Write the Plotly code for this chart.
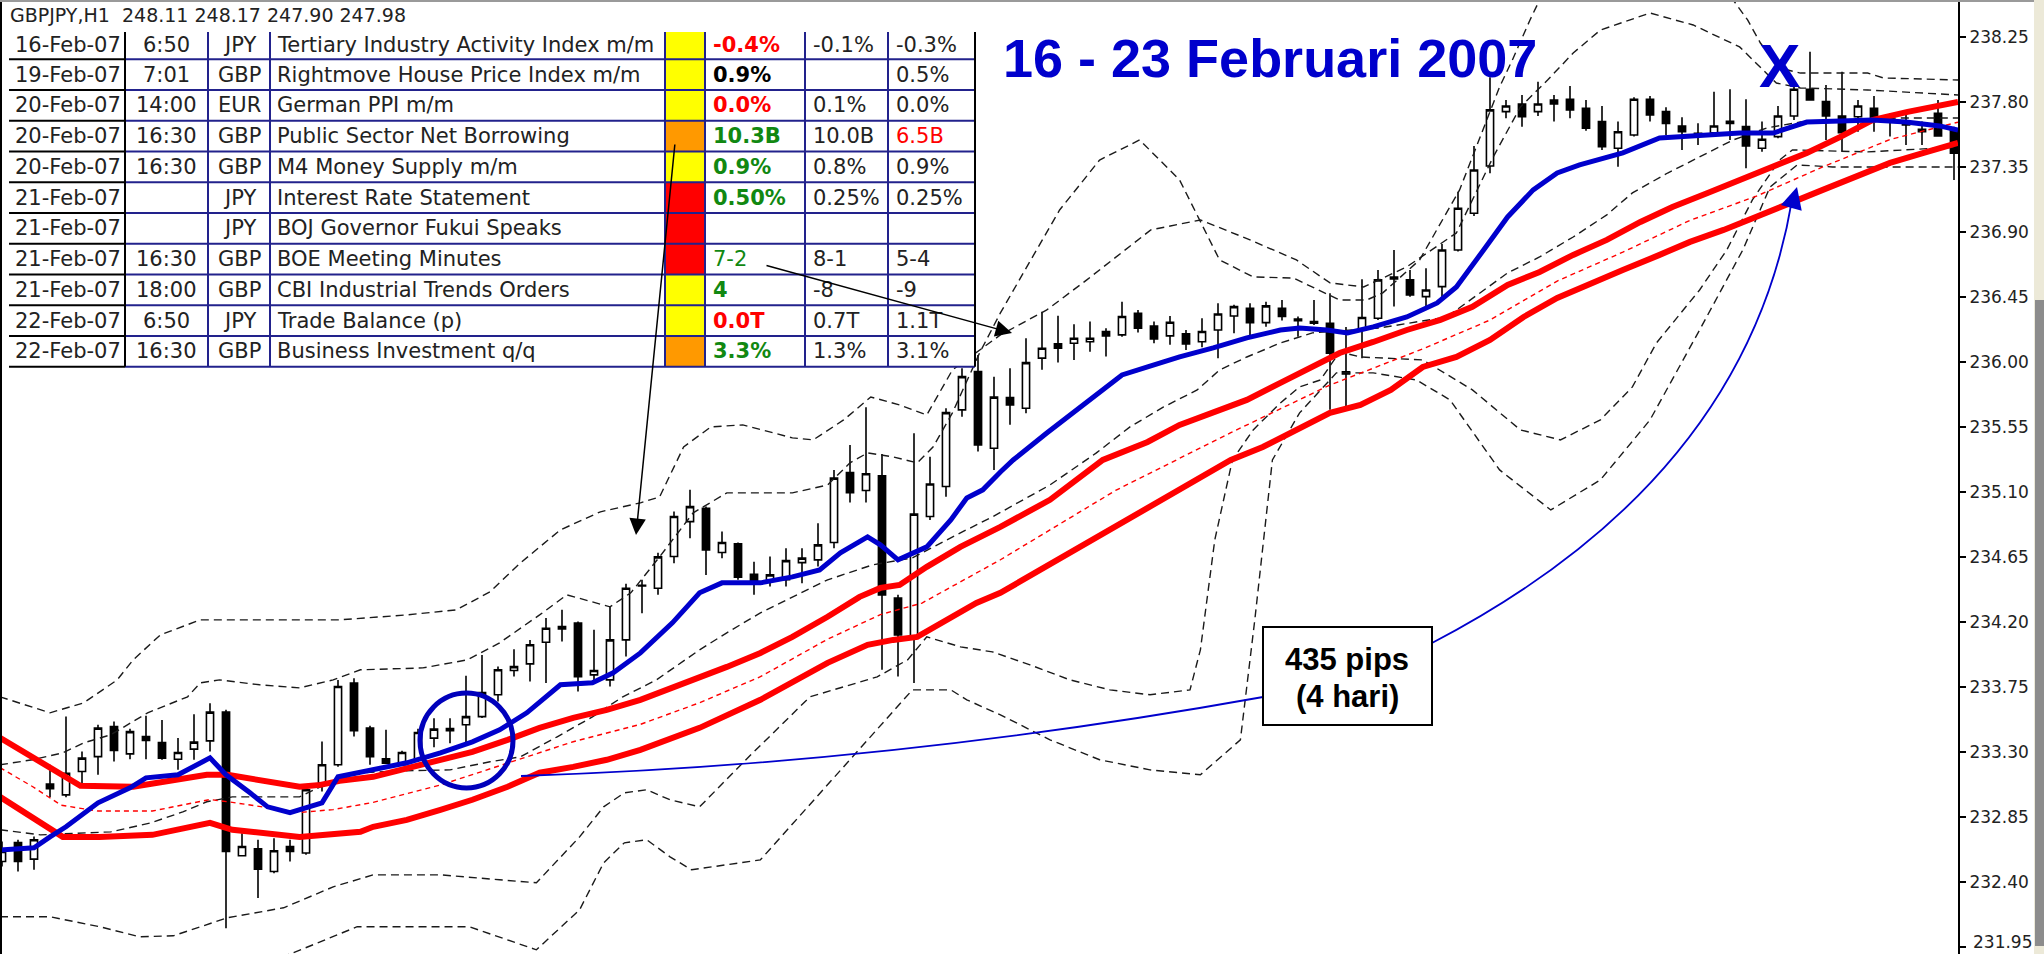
import plotly.graph_objects as go

# ---------------- data: GBPJPY H1 candles (hour index 0..122) ----------------
O = [232.540, 232.672, 232.557, 233.076, 233.002, 233.164, 233.267, 233.475, 233.286, 233.406,
     233.364, 233.249, 233.319, 233.376, 233.575, 232.580, 232.628, 232.471, 232.644, 232.599,
     233.083, 233.210, 233.776, 233.464, 233.251, 233.210, 233.245, 233.395, 233.461, 233.487,
     233.544, 233.695, 233.863, 233.909, 234.059, 234.167, 234.191, 233.833, 233.798, 234.075,
     234.453, 234.433, 234.652, 234.894, 234.987, 234.680, 234.740, 234.530, 234.491, 234.491,
     234.610, 234.629, 234.749, 235.234, 235.109, 235.211, 234.364, 234.087, 234.929, 235.137,
     235.668, 235.933, 235.402, 235.753, 235.679, 236.026, 236.125, 236.129, 236.140, 236.210,
     236.187, 236.337, 236.249, 236.180, 236.194, 236.140, 236.221, 236.318, 236.372, 236.272,
     236.372, 236.296, 236.279, 236.268, 235.931, 236.221, 236.302, 236.588, 236.568, 236.452,
     236.521, 236.775, 237.029, 237.357, 237.733, 237.786, 237.733, 237.814, 237.819, 237.756,
     237.664, 237.479, 237.571, 237.819, 237.733, 237.634, 237.583, 237.587, 237.652, 237.629,
     237.479, 237.560, 237.703, 237.888, 237.802, 237.703, 237.698, 237.756, 237.687, 237.652,
     237.611, 237.722, 237.606]
H = [232.679, 232.691, 232.714, 233.210, 233.544, 233.302, 233.487, 233.510, 233.459, 233.549,
     233.521, 233.395, 233.561, 233.637, 233.591, 232.737, 232.691, 232.702, 232.691, 233.051,
     233.371, 233.798, 233.810, 233.480, 233.452, 233.307, 233.459, 233.533, 233.533, 233.826,
     233.971, 233.890, 234.011, 234.075, 234.226, 234.283, 234.202, 234.145, 234.306, 234.463,
     234.491, 234.678, 234.964, 235.114, 234.998, 234.825, 234.749, 234.617, 234.652, 234.710,
     234.710, 234.883, 235.252, 235.425, 235.686, 235.363, 234.387, 235.506, 235.344, 235.679,
     235.956, 236.048, 235.898, 235.956, 236.164, 236.348, 236.320, 236.261, 236.279, 236.233,
     236.417, 236.360, 236.279, 236.318, 236.221, 236.302, 236.406, 236.395, 236.406, 236.417,
     236.429, 236.314, 236.429, 236.476, 236.242, 236.572, 236.637, 236.775, 236.637, 236.649,
     236.817, 237.179, 237.495, 237.971, 237.814, 237.848, 237.940, 237.848, 237.911, 237.814,
     237.772, 237.664, 237.832, 237.841, 237.763, 237.694, 237.652, 237.871, 237.888, 237.819,
     237.664, 237.772, 237.929, 238.148, 237.918, 238.010, 237.814, 237.841, 237.722, 237.733,
     237.664, 237.814, 237.629]
L = [232.506, 232.471, 232.483, 232.986, 232.985, 233.083, 233.141, 233.233, 233.249, 233.249,
     233.245, 233.175, 233.245, 233.302, 232.079, 232.575, 232.287, 232.460, 232.540, 232.587,
     233.025, 233.196, 233.406, 233.210, 233.217, 233.203, 233.231, 233.332, 233.360, 233.360,
     233.535, 233.648, 233.821, 233.787, 233.776, 234.064, 233.717, 233.787, 233.752, 233.960,
     234.260, 234.387, 234.606, 234.779, 234.525, 234.641, 234.491, 234.387, 234.444, 234.444,
     234.468, 234.583, 234.710, 235.026, 235.026, 233.868, 233.821, 233.776, 234.906, 235.067,
     235.621, 235.379, 235.252, 235.564, 235.645, 235.945, 235.995, 236.014, 236.071, 236.037,
     236.175, 236.203, 236.129, 236.118, 236.083, 236.102, 236.026, 236.199, 236.187, 236.244,
     236.286, 236.175, 236.256, 235.668, 235.668, 236.026, 236.291, 236.383, 236.452, 236.383,
     236.441, 236.764, 237.011, 237.306, 237.687, 237.629, 237.703, 237.664, 237.687, 237.601,
     237.468, 237.352, 237.560, 237.664, 237.571, 237.468, 237.502, 237.571, 237.537, 237.341,
     237.456, 237.549, 237.675, 237.809, 237.537, 237.456, 237.594, 237.594, 237.560, 237.502,
     237.502, 237.560, 237.260]
C = [232.610, 232.540, 232.691, 233.044, 233.152, 233.256, 233.464, 233.309, 233.440, 233.378,
     233.256, 233.295, 233.367, 233.575, 232.610, 232.644, 232.488, 232.615, 232.610, 233.037,
     233.210, 233.752, 233.447, 233.267, 233.222, 233.295, 233.434, 233.457, 233.447, 233.544,
     233.710, 233.868, 233.890, 234.041, 234.156, 234.151, 233.821, 233.863, 234.075, 234.433,
     234.449, 234.650, 234.929, 234.998, 234.698, 234.749, 234.509, 234.479, 234.525, 234.624,
     234.641, 234.733, 235.195, 235.095, 235.225, 234.387, 234.110, 234.946, 235.155, 235.649,
     235.898, 235.425, 235.756, 235.702, 235.995, 236.095, 236.095, 236.164, 236.164, 236.180,
     236.314, 236.233, 236.159, 236.275, 236.125, 236.210, 236.332, 236.383, 236.272, 236.388,
     236.314, 236.286, 236.268, 236.060, 235.917, 236.307, 236.568, 236.575, 236.464, 236.498,
     236.775, 237.064, 237.329, 237.745, 237.772, 237.698, 237.786, 237.786, 237.745, 237.618,
     237.490, 237.594, 237.819, 237.710, 237.652, 237.594, 237.571, 237.634, 237.666, 237.495,
     237.542, 237.703, 237.888, 237.814, 237.703, 237.587, 237.772, 237.670, 237.675, 237.641,
     237.594, 237.564, 237.445]
HOURS = list(range(len(O)))

# blue moving average
blue_x = [-0.125, 2, 3, 4, 6, 8, 9, 11, 13, 14, 15.5, 16.6, 18, 20, 21, 23, 25.3, 27.4, 29.4, 31.1,
          32.8, 34.9, 36.9, 38.2, 39.9, 41.9, 43.6, 45, 47.4, 49.4, 51.1, 52.4, 54.1, 54.9, 56, 57.8,
          59.3, 60.3, 61.3, 62.4, 63.2, 65.3, 67.4, 70, 71.6, 73.6, 75.7, 77.8, 79.9, 81.1, 82.8, 84.1,
          85.7, 87.8, 89.7, 90.9, 92.6, 94.1, 95.7, 97.2, 98.6, 100.3, 101.3, 103.6, 106.6, 108.6,
          110.7, 111.8, 112.8, 114.9, 116.9, 119, 121.1, 122.25]
blue_y = [232.621, 232.635, 232.711, 232.781, 232.947, 233.051, 233.120, 233.141, 233.258, 233.141,
          233.016, 232.919, 232.878, 232.947, 233.127, 233.175, 233.224, 233.293, 233.369, 233.452,
          233.570, 233.764, 233.778, 233.847, 233.985, 234.193, 234.401, 234.470, 234.470, 234.511,
          234.560, 234.678, 234.788, 234.733, 234.629, 234.719, 234.906, 235.058, 235.114, 235.238,
          235.321, 235.508, 235.688, 235.910, 235.965, 236.035, 236.097, 236.166, 236.221, 236.235,
          236.221, 236.201, 236.242, 236.311, 236.408, 236.519, 236.775, 237.004, 237.191, 237.308,
          237.364, 237.412, 237.447, 237.551, 237.571, 237.585, 237.585, 237.627, 237.661, 237.668,
          237.675, 237.661, 237.634, 237.606]

# red envelope (upper / lower / middle)
red_up_x = [-0.125, 1.9, 3.6, 4.9, 8.2, 10.3, 12.8, 14.1, 16.6, 18.6, 19.9, 21.1, 23.2, 25.3, 27.4,
            29.4, 31.6, 33.6, 35.7, 37.8, 39.9, 41.9, 43.6, 45.3, 47.4, 49.4, 51.6, 53.6, 54.9, 56.1,
            57.8, 59.9, 62.4, 65.5, 68.8, 71.6, 73.6, 75.7, 77.8, 79.9, 81.9, 83.6, 85.7, 87.8, 89.9,
            91.9, 94.1, 96.1, 98.2, 100.3, 102.4, 104.4, 106.6, 108.6, 110.7, 112.8, 114.9, 116.9,
            119.1, 121.1, 122.25]
red_up_y = [233.397, 233.265, 233.155, 233.065, 233.058, 233.092, 233.141, 233.141, 233.092, 233.058,
            233.071, 233.099, 233.127, 233.189, 233.245, 233.300, 233.383, 233.466, 233.535, 233.591,
            233.660, 233.743, 233.812, 233.888, 233.985, 234.096, 234.235, 234.373, 234.435, 234.456,
            234.581, 234.719, 234.858, 235.045, 235.321, 235.446, 235.564, 235.647, 235.737, 235.855,
            235.965, 236.062, 236.138, 236.221, 236.291, 236.381, 236.533, 236.623, 236.741, 236.845,
            236.969, 237.073, 237.170, 237.260, 237.350, 237.447, 237.558, 237.675, 237.731, 237.779,
            237.800]
red_lo_x = [-0.125, 1.9, 3.8, 6.1, 9.4, 13.0, 14.4, 18.6, 20.7, 22.4, 23.2, 25.3, 27.4, 29.4, 31.6,
            33.6, 35.7, 37.8, 39.9, 41.9, 43.6, 47.4, 49.4, 51.6, 54.1, 55.7, 57.2, 58.8, 60.9, 62.4,
            69.6, 76.8, 78.8, 80.9, 83.0, 84.9, 86.8, 88.8, 90.9, 93.0, 95.1, 97.2, 99.3, 101.3, 103.6,
            105.5, 107.6, 109.7, 111.8, 113.8, 115.9, 118.0, 120.1, 122.25]
red_lo_y = [232.988, 232.850, 232.711, 232.711, 232.725, 232.808, 232.760, 232.711, 232.725, 232.746,
            232.781, 232.829, 232.898, 232.968, 233.058, 233.155, 233.196, 233.245, 233.314, 233.397,
            233.466, 233.660, 233.785, 233.916, 234.041, 234.075, 234.096, 234.200, 234.331, 234.401,
            234.858, 235.321, 235.411, 235.529, 235.647, 235.702, 235.806, 235.965, 236.035, 236.152,
            236.311, 236.443, 236.547, 236.637, 236.741, 236.831, 236.914, 237.004, 237.101, 237.191,
            237.281, 237.378, 237.447, 237.516]
red_mid_x = [-0.125, 1.9, 3.7, 6.0, 9.4, 13.0, 14.4, 18.6, 20.7, 23.2, 27.4, 31.6, 35.7, 39.9, 43.6,
             47.4, 51.6, 54.9, 57.5, 62.4, 69.6, 76.8, 83.0, 88.8, 93.0, 97.2, 101.3, 105.5, 109.7,
             113.8, 118.0, 122.25]
red_mid_y = [233.19, 233.06, 232.93, 232.89, 232.89, 232.97, 232.95, 232.88, 232.90, 232.95, 233.07,
             233.22, 233.37, 233.49, 233.64, 233.82, 234.08, 234.25, 234.33, 234.63, 235.11, 235.51,
             235.84, 236.09, 236.29, 236.56, 236.76, 236.98, 237.15, 237.35, 237.54, 237.66]

# black dashed bands
bb_up1_x = [-0.125, 3.0, 5.1, 7.2, 8.2, 9.9, 12.4, 16.1, 21.1, 25.3, 28.4, 30.5, 32.4, 34.9, 37.4,
            39.9, 41.1, 42.6, 44.3, 46.3, 49.4, 50.7, 52.6, 54.3, 56.1, 57.8, 59.4, 62.4, 65.3, 67.8,
            69.4, 71.8, 74.9, 78.0, 80.9, 83.0, 85.1, 87.8, 90.9, 93.2, 94.9, 96.6, 98.2, 99.9, 103.0,
            105.7, 108.6, 109.9, 110.9, 112.4, 116.6, 122.25]
bb_up1_y = [233.681, 233.570, 233.639, 233.798, 233.937, 234.110, 234.214, 234.214, 234.214, 234.248,
            234.283, 234.408, 234.608, 234.837, 234.962, 235.024, 235.065, 235.411, 235.550, 235.564,
            235.474, 235.460, 235.598, 235.757, 235.702, 235.633, 235.944, 236.187, 236.360, 236.568,
            236.706, 236.914, 236.983, 236.845, 236.706, 236.547, 236.519, 236.658, 236.893, 237.419,
            237.765, 237.952, 238.139, 238.298, 238.416, 238.333, 238.181, 238.042, 237.931, 237.897,
            237.883, 237.848]
bb_up2_x = [-0.125, 1.9, 3.8, 5.1, 6.8, 9.1, 11.6, 12.4, 13.6, 16.1, 18.6, 20.7, 22.4, 26.3, 29.1,
            31.1, 33.6, 35.3, 36.9, 38.0, 39.3, 41.1, 43.2, 45.3, 49.4, 51.6, 53.0, 54.1, 55.7, 57.2,
            58.2, 59.4, 61.1, 62.4, 64.3, 66.1, 68.6, 71.1, 73.6, 76.1, 78.2, 80.7, 83.6, 85.3, 86.3,
            88.6, 91.1, 93.6, 94.4, 95.5, 96.4, 99.9, 104.9, 108.2, 109.1, 109.9, 110.7, 111.6, 112.4,
            116.6, 117.6, 122.25]
bb_up2_y = [233.210, 233.245, 233.293, 233.362, 233.418, 233.570, 233.681, 233.778, 233.798, 233.764,
            233.743, 233.798, 233.868, 233.881, 233.937, 234.055, 234.248, 234.387, 234.338, 234.304,
            234.401, 234.650, 234.955, 235.093, 235.093, 235.148, 235.301, 235.370, 235.342, 235.301,
            235.412, 235.647, 236.062, 236.339, 236.706, 237.052, 237.398, 237.537, 237.260, 236.706,
            236.588, 236.581, 236.429, 236.429, 236.478, 236.706, 237.191, 237.904, 238.091, 238.368,
            238.575, 239.06, 238.92, 238.506, 238.368, 238.208, 238.091, 238.021, 238.000, 238.000,
            237.966, 237.952]
bb_mid_x = [-0.125, 2.4, 6.8, 9.3, 11.3, 12.8, 14.4, 18.6, 19.9, 22.4, 24.9, 28.0, 30.5, 32.4, 34.7,
            36.9, 38.8, 40.9, 43.6, 45.3, 47.4, 49.4, 51.6, 54.4, 56.9, 59.9, 61.9, 65.5, 68.4, 70.5,
            72.6, 74.7, 76.1, 77.8, 79.9, 81.9, 86.1, 90.3, 92.4, 94.1, 96.1, 98.2, 100.3, 101.9, 104.1,
            106.1, 108.2, 110.3, 112.4, 118.6, 122.25]
bb_mid_y = [232.760, 232.725, 232.746, 232.808, 232.884, 232.954, 232.988, 232.988, 233.058, 233.155,
            233.168, 233.175, 233.231, 233.265, 233.404, 233.542, 233.681, 233.798, 234.006, 234.124,
            234.262, 234.373, 234.491, 234.594, 234.643, 234.816, 234.927, 235.148, 235.370, 235.550,
            235.688, 235.806, 235.944, 236.034, 236.131, 236.201, 236.235, 236.311, 236.478, 236.616,
            236.727, 236.865, 237.018, 237.170, 237.308, 237.419, 237.537, 237.620, 237.661, 237.689,
            237.689]
bb_lo1_x = [-0.125, 3.0, 6.1, 8.6, 10.7, 14.1, 17.6, 20.7, 23.2, 27.4, 31.1, 33.4, 36.1, 37.6, 38.9,
            40.3, 41.75, 43.6, 46.8, 50.5, 54.7, 56.6, 57.8, 59.9, 61.9, 64.25, 66.75, 69.25, 71.75,
            74.25, 74.9, 75.3, 75.8, 76.9, 78.2, 79.9, 81.1, 82.4, 83.6, 84.9, 88.8, 91.9, 94.9, 97.4,
            99.9, 101.9, 103.4, 106.1, 107.8, 109.4, 111.1, 111.9, 116.6, 122.25]
bb_lo1_y = [232.158, 232.158, 232.089, 232.019, 232.026, 232.151, 232.220, 232.365, 232.448, 232.448,
            232.414, 232.393, 232.711, 232.919, 233.016, 233.037, 232.968, 232.919, 233.279, 233.681,
            233.819, 233.937, 234.096, 234.027, 233.992, 233.902, 233.798, 233.729, 233.695, 233.729,
            234.006, 234.352, 234.768, 235.321, 235.529, 235.716, 235.827, 235.875, 236.069, 236.034,
            236.014, 235.806, 235.529, 235.460, 235.598, 235.827, 236.131, 236.498, 236.775, 237.122,
            237.398, 237.468, 237.454, 237.488]
bb_lo2_x = [-0.125, 12.4, 18.2, 20.7, 22.2, 29.2, 33.4, 36.1, 37.6, 38.9, 40.3, 41.75, 43.1, 47.4,
            53.0, 56.9, 59.3, 60.3, 62.4, 65.5, 68.6, 71.75, 74.9, 77.4, 78.3, 78.9, 79.4, 81.1, 83.4,
            85.7, 88.4, 90.5, 93.6, 96.8, 99.9, 103.0, 106.1, 108.8, 110.5, 112.2, 114.4, 122.25]
bb_lo2_y = [231.687, 231.687, 231.908, 232.019, 232.089, 232.089, 231.929, 232.206, 232.531, 232.670,
            232.691, 232.573, 232.483, 232.552, 233.245, 233.729, 233.729, 233.660, 233.556, 233.383,
            233.245, 233.175, 233.141, 233.383, 234.214, 234.837, 235.321, 235.647, 235.924, 235.924,
            235.875, 235.737, 235.252, 234.975, 235.183, 235.598, 236.221, 236.775, 237.211, 237.364,
            237.350, 237.350]

# price axis
y_ticks = [231.95, 232.40, 232.85, 233.30, 233.75, 234.20, 234.65, 235.10, 235.55, 236.00,
           236.45, 236.90, 237.35, 237.80, 238.25]
y_range = [231.90, 238.506]
x_range = [-0.125, 122.25]

# news table
t_date = ["16-Feb-07", "19-Feb-07", "20-Feb-07", "20-Feb-07", "20-Feb-07", "21-Feb-07",
          "21-Feb-07", "21-Feb-07", "21-Feb-07", "22-Feb-07", "22-Feb-07"]
t_time = ["6:50", "7:01", "14:00", "16:30", "16:30", "", "", "16:30", "18:00", "6:50", "16:30"]
t_ccy = ["JPY", "GBP", "EUR", "GBP", "GBP", "JPY", "JPY", "GBP", "GBP", "JPY", "GBP"]
t_event = ["Tertiary Industry Activity Index m/m", "Rightmove House Price Index m/m",
           "German PPI m/m", "Public Sector Net Borrowing", "M4 Money Supply m/m",
           "Interest Rate Statement", "BOJ Governor Fukui Speaks", "BOE Meeting Minutes",
           "CBI Industrial Trends Orders", "Trade Balance (p)", "Business Investment q/q"]
t_impact = ["#FFFF00", "#FFFF00", "#FFFF00", "#FF9900", "#FFFF00", "#FF0000", "#FF0000",
            "#FF0000", "#FFFF00", "#FFFF00", "#FF9900"]
t_actual = ["-0.4%", "0.9%", "0.0%", "10.3B", "0.9%", "0.50%", "", "7-2", "4", "0.0T", "3.3%"]
t_actual_col = ["#FF0000", "#000000", "#FF0000", "#118811", "#118811", "#118811", "#000000",
                "#118811", "#118811", "#FF0000", "#118811"]
t_actual_bold = [True, True, True, True, True, True, True, False, True, True, True]
t_fcst = ["-0.1%", "", "0.1%", "10.0B", "0.8%", "0.25%", "", "8-1", "-8", "0.7T", "1.3%"]
t_prev = ["-0.3%", "0.5%", "0.0%", "6.5B", "0.9%", "0.25%", "", "5-4", "-9", "1.1T", "3.1%"]
t_prev_col = ["#222", "#222", "#222", "#FF0000", "#222", "#222", "#222", "#222", "#222", "#222", "#222"]

# ---------------- figure ----------------
FIG_W, FIG_H, PLOT_W = 2044, 954, 1958
def PX(x):
    return x / PLOT_W
def PY(y):
    return 1 - y / FIG_H

fig = go.Figure()
fig.add_trace(go.Candlestick(
    x=HOURS, open=O, high=H, low=L, close=C,
    increasing=dict(line=dict(color="black", width=1.6), fillcolor="white"),
    decreasing=dict(line=dict(color="black", width=1.6), fillcolor="black"),
    whiskerwidth=0, hoverinfo="skip", showlegend=False))

for xs, ys in [(bb_up1_x, bb_up1_y), (bb_up2_x, bb_up2_y), (bb_mid_x, bb_mid_y),
               (bb_lo1_x, bb_lo1_y), (bb_lo2_x, bb_lo2_y)]:
    fig.add_trace(go.Scatter(x=xs, y=ys, mode="lines", hoverinfo="skip",
                             line=dict(color="#1a1a1a", width=1.4, dash="8px,5px")))
fig.add_trace(go.Scatter(x=red_mid_x, y=red_mid_y, mode="lines", hoverinfo="skip",
                         line=dict(color="#FF0000", width=1.4, dash="5px,4px")))
for xs, ys in [(red_up_x, red_up_y), (red_lo_x, red_lo_y)]:
    fig.add_trace(go.Scatter(x=xs, y=ys, mode="lines", hoverinfo="skip",
                             line=dict(color="#FF0000", width=6)))
fig.add_trace(go.Scatter(x=blue_x, y=blue_y, mode="lines", hoverinfo="skip",
                         line=dict(color="#0000CC", width=5)))

shapes = []
ann = []

# ---- table ----
cols = [9, 125, 208, 270, 665, 705, 805, 888, 975]
seps = [59.3 + 30.74 * k for k in range(11)]
tops = [32] + seps[:-1]
NAVY = "#22228C"
shapes.append(dict(type="rect", xref="paper", yref="paper", layer="above",
                   x0=PX(cols[0]), x1=PX(cols[-1]), y0=PY(seps[-1]), y1=PY(32),
                   fillcolor="white", line=dict(width=0)))
for k in range(11):
    shapes.append(dict(type="rect", xref="paper", yref="paper", layer="above",
                       x0=PX(cols[4]), x1=PX(cols[5]), y0=PY(seps[k]), y1=PY(tops[k]),
                       fillcolor=t_impact[k], line=dict(width=0)))
for s in seps:
    shapes.append(dict(type="line", xref="paper", yref="paper", layer="above",
                       x0=PX(cols[0]), x1=PX(cols[1]), y0=PY(s), y1=PY(s),
                       line=dict(color="black", width=2)))
    shapes.append(dict(type="line", xref="paper", yref="paper", layer="above",
                       x0=PX(cols[1]), x1=PX(cols[-1]), y0=PY(s), y1=PY(s),
                       line=dict(color=NAVY, width=2)))
for cx in cols[1:]:
    col = "black" if cx in (125, 975) else NAVY
    shapes.append(dict(type="line", xref="paper", yref="paper", layer="above",
                       x0=PX(cx), x1=PX(cx), y0=PY(seps[-1]), y1=PY(32),
                       line=dict(color=col, width=2)))

TF = "DejaVu Sans"
for k in range(11):
    yc = 45.5 if k == 0 else (tops[k] + seps[k]) / 2
    def add(txt, x, anchor, color="#222", bold=False, size=21):
        if txt == "":
            return
        ann.append(dict(xref="paper", yref="paper", x=PX(x), y=PY(yc), xanchor=anchor,
                        yanchor="middle", showarrow=False,
                        text=("<b>%s</b>" % txt) if bold else txt,
                        font=dict(family=TF, size=size, color=color)))
    add(t_date[k], 13, "left")
    add(t_time[k], 166, "center")
    add(t_ccy[k], 239, "center")
    add(t_event[k], 275, "left")
    add(t_actual[k], 711, "left", t_actual_col[k], t_actual_bold[k])
    add(t_fcst[k], 811, "left")
    add(t_prev[k], 894, "left", t_prev_col[k])

ann.append(dict(xref="paper", yref="paper", x=PX(8), y=PY(15), xanchor="left", yanchor="middle",
                showarrow=False, text="GBPJPY,H1\u00a0\u00a0248.11 248.17 247.90 247.98",
                font=dict(family=TF, size=19, color="#222")))

# title and X
ann.append(dict(xref="paper", yref="paper", x=PX(1270), y=PY(58), xanchor="center",
                yanchor="middle", showarrow=False, text="<b>16 - 23 Februari 2007</b>",
                font=dict(family="Liberation Sans, Arial", size=54, color="#0000CC")))
ann.append(dict(xref="paper", yref="paper", x=PX(1779), y=PY(65), xanchor="center",
                yanchor="middle", showarrow=False, text="<b>X</b>",
                font=dict(family="Liberation Sans, Arial", size=62, color="#0000CC")))

# black arrows from table
ann.append(dict(xref="paper", yref="paper", x=PX(636), y=PY(535), ax=39, ay=-392,
                showarrow=True, arrowhead=2, arrowsize=2.2, arrowwidth=1.5, arrowcolor="black",
                text=""))
ann.append(dict(xref="paper", yref="paper", x=PX(1012), y=PY(333), ax=-247, ay=-68,
                showarrow=True, arrowhead=2, arrowsize=2.2, arrowwidth=1.5, arrowcolor="black",
                text=""))

# blue circle and curved connectors
shapes.append(dict(type="circle", xref="paper", yref="paper", layer="above",
                   x0=PX(420), x1=PX(513), y0=PY(788), y1=PY(693),
                   line=dict(color="#0000BB", width=5)))
def qpath(p0, c, p1):
    return "M %f,%f Q %f,%f %f,%f" % (PX(p0[0]), PY(p0[1]), PX(c[0]), PY(c[1]), PX(p1[0]), PY(p1[1]))
shapes.append(dict(type="path", xref="paper", yref="paper", layer="above",
                   path=qpath((521, 776), (890, 764), (1263, 697)),
                   line=dict(color="#0000CC", width=1.8)))
shapes.append(dict(type="path", xref="paper", yref="paper", layer="above",
                   path=qpath((1432, 643), (1745, 480), (1792, 200)),
                   line=dict(color="#0000CC", width=1.8)))
ann.append(dict(xref="paper", yref="paper", x=PX(1797), y=PY(187), ax=-6, ay=22,
                showarrow=True, arrowhead=2, arrowsize=2.4, arrowwidth=1.8, arrowcolor="#0000CC",
                text=""))

# pips box
shapes.append(dict(type="rect", xref="paper", yref="paper", layer="above",
                   x0=PX(1263), x1=PX(1432), y0=PY(725), y1=PY(627),
                   fillcolor="white", line=dict(color="black", width=2)))
for txt, yy in [("<b>435 pips</b>", 659), ("<b>(4 hari)</b>", 696)]:
    ann.append(dict(xref="paper", yref="paper", x=PX(1347), y=PY(yy), xanchor="center",
                    yanchor="middle", showarrow=False, text=txt,
                    font=dict(family="Liberation Sans, Arial", size=31, color="black")))

# bottom tick label kept inside the page
tick_text = ["%.2f" % v for v in y_ticks]
ann.append(dict(xref="paper", yref="paper", x=1971 / PLOT_W, y=PY(942), xanchor="left",
                yanchor="middle", showarrow=False, text=tick_text[0],
                font=dict(family="DejaVu Sans", size=17, color="#222")))
tick_text[0] = ""

# frame details
shapes.append(dict(type="line", xref="paper", yref="paper", x0=PX(1), x1=PX(1), y0=0, y1=1,
                   line=dict(color="black", width=2), layer="above"))
shapes.append(dict(type="line", xref="paper", yref="paper", x0=0, x1=FIG_W / PLOT_W,
                   y0=PY(1), y1=PY(1), line=dict(color="#9a9a9a", width=2), layer="above"))
shapes.append(dict(type="rect", xref="paper", yref="paper", x0=2034 / PLOT_W, x1=FIG_W / PLOT_W,
                   y0=0, y1=1, fillcolor="#ECE9D8", line=dict(width=0), layer="above"))
shapes.append(dict(type="rect", xref="paper", yref="paper", x0=2035 / PLOT_W, x1=FIG_W / PLOT_W,
                   y0=PY(946), y1=PY(300), fillcolor="#8c8c8c", line=dict(width=0), layer="above"))

fig.update_layout(
    width=FIG_W, height=FIG_H, margin=dict(l=0, r=FIG_W - PLOT_W, t=0, b=0),
    paper_bgcolor="white", plot_bgcolor="white", showlegend=False,
    shapes=shapes, annotations=ann, boxgap=0.36,
    xaxis=dict(range=x_range, visible=False, rangeslider=dict(visible=False), fixedrange=True),
    yaxis=dict(range=y_range, side="right", tickmode="array", tickvals=y_ticks,
               ticktext=tick_text, ticks="outside", ticklen=6,
               tickcolor="black", tickwidth=1.5, showline=True, linecolor="black", linewidth=2,
               showgrid=False, zeroline=False, fixedrange=True, automargin=False,
               tickfont=dict(family="DejaVu Sans", size=17, color="#222")),
)
fig.write_html("out.html", config={"displayModeBar": False},
               post_script="document.body.style.margin='0';document.body.style.overflow='hidden';")
